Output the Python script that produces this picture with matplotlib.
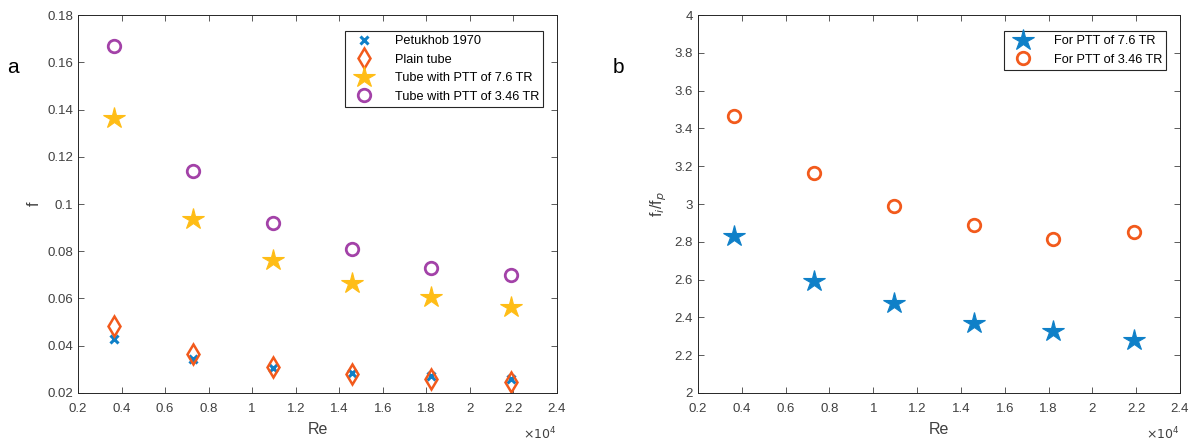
import matplotlib.pyplot as plt

plt.rcParams['font.family'] = ['Liberation Sans', 'DejaVu Sans']

# Reynolds numbers
re = [3650, 7300, 10950, 14600, 18200, 21900]
re_ticks = [2000, 4000, 6000, 8000, 10000, 12000, 14000, 16000, 18000, 20000, 22000, 24000]
re_ticklabels = ['0.2', '0.4', '0.6', '0.8', '1', '1.2', '1.4', '1.6', '1.8', '2', '2.2', '2.4']

# panel a: friction factor
f_petukhov = [0.0428, 0.0345, 0.0305, 0.0285, 0.0270, 0.0258]
f_plain = [0.0483, 0.0363, 0.0310, 0.0280, 0.0258, 0.0245]
f_ptt76 = [0.1365, 0.0935, 0.0763, 0.0665, 0.0605, 0.0563]
f_ptt346 = [0.1670, 0.1138, 0.0920, 0.0810, 0.0730, 0.0700]

# panel b: friction factor ratio
ratio_ptt76 = [2.83, 2.595, 2.475, 2.37, 2.33, 2.28]
ratio_ptt346 = [3.465, 3.165, 2.99, 2.89, 2.815, 2.85]

blue = '#0f80c8'
orange = '#f25a1c'
yellow = '#ffbd16'
purple = '#a342a8'
tickcol = '#404040'

fig = plt.figure(figsize=(11.96, 4.43), dpi=100)
ax1 = fig.add_axes([0.0652, 0.113, 0.4005, 0.853])
ax2 = fig.add_axes([0.5836, 0.113, 0.403, 0.853])


def style(ax):
    ax.tick_params(direction='in', top=True, right=True, labelsize=9.5,
                   colors=tickcol, length=4, width=0.6)
    ax.tick_params(axis='x', pad=7)
    for s in ax.spines.values():
        s.set_color('#262626')
        s.set_linewidth(0.7)
    ax.set_xlim(2000, 24000)
    ax.set_xticks(re_ticks)
    ax.set_xticklabels(re_ticklabels)
    ax.text(1.0, -0.087, r'$\times10^4$', transform=ax.transAxes, ha='right',
            va='top', fontsize=9, color=tickcol)
    ax.set_xlabel('Re', fontsize=11.5, color=tickcol, labelpad=5)


def legend(ax):
    leg = ax.legend(loc='upper right', bbox_to_anchor=(0.985, 0.975), fontsize=9.2,
                    fancybox=False, edgecolor='#262626', framealpha=1,
                    handletextpad=1.3, labelspacing=0.5, borderpad=0.35,
                    handlelength=2.2)
    leg.get_frame().set_linewidth(0.8)


ax1.plot(re, f_petukhov, 'x', color=blue, ms=6, mew=2.2, label='Petukhob 1970')
ax1.plot(re, f_plain, 'd', color=orange, mfc='none', ms=10, mew=1.8, label='Plain tube')
ax1.plot(re, f_ptt76, '*', color=yellow, ms=16, mew=0.8, label='Tube with PTT of 7.6 TR')
ax1.plot(re, f_ptt346, 'o', color=purple, mfc='none', ms=9, mew=2, label='Tube with PTT of 3.46 TR')
style(ax1)
ax1.set_ylim(0.02, 0.18)
ax1.set_yticks([0.02 + 0.02 * i for i in range(9)])
ax1.set_yticklabels(['0.02', '0.04', '0.06', '0.08', '0.1', '0.12', '0.14', '0.16', '0.18'])
ax1.set_ylabel('f', fontsize=11.5, color=tickcol, labelpad=4)
legend(ax1)

ax2.plot(re, ratio_ptt76, '*', color=blue, ms=16, mew=0.8, label='For PTT of 7.6 TR')
ax2.plot(re, ratio_ptt346, 'o', color=orange, mfc='none', ms=9, mew=2, label='For PTT of 3.46 TR')
style(ax2)
ax2.set_ylim(2, 4)
ax2.set_yticks([2 + 0.2 * i for i in range(11)])
ax2.set_yticklabels(['2', '2.2', '2.4', '2.6', '2.8', '3', '3.2', '3.4', '3.6', '3.8', '4'])
ax2.set_ylabel('f$_i$/f$_p$', fontsize=11.5, color=tickcol, labelpad=4)
legend(ax2)

fig.text(0.006, 0.835, 'a', fontsize=15)
fig.text(0.512, 0.835, 'b', fontsize=15)

fig.savefig('out.png', dpi=100)
